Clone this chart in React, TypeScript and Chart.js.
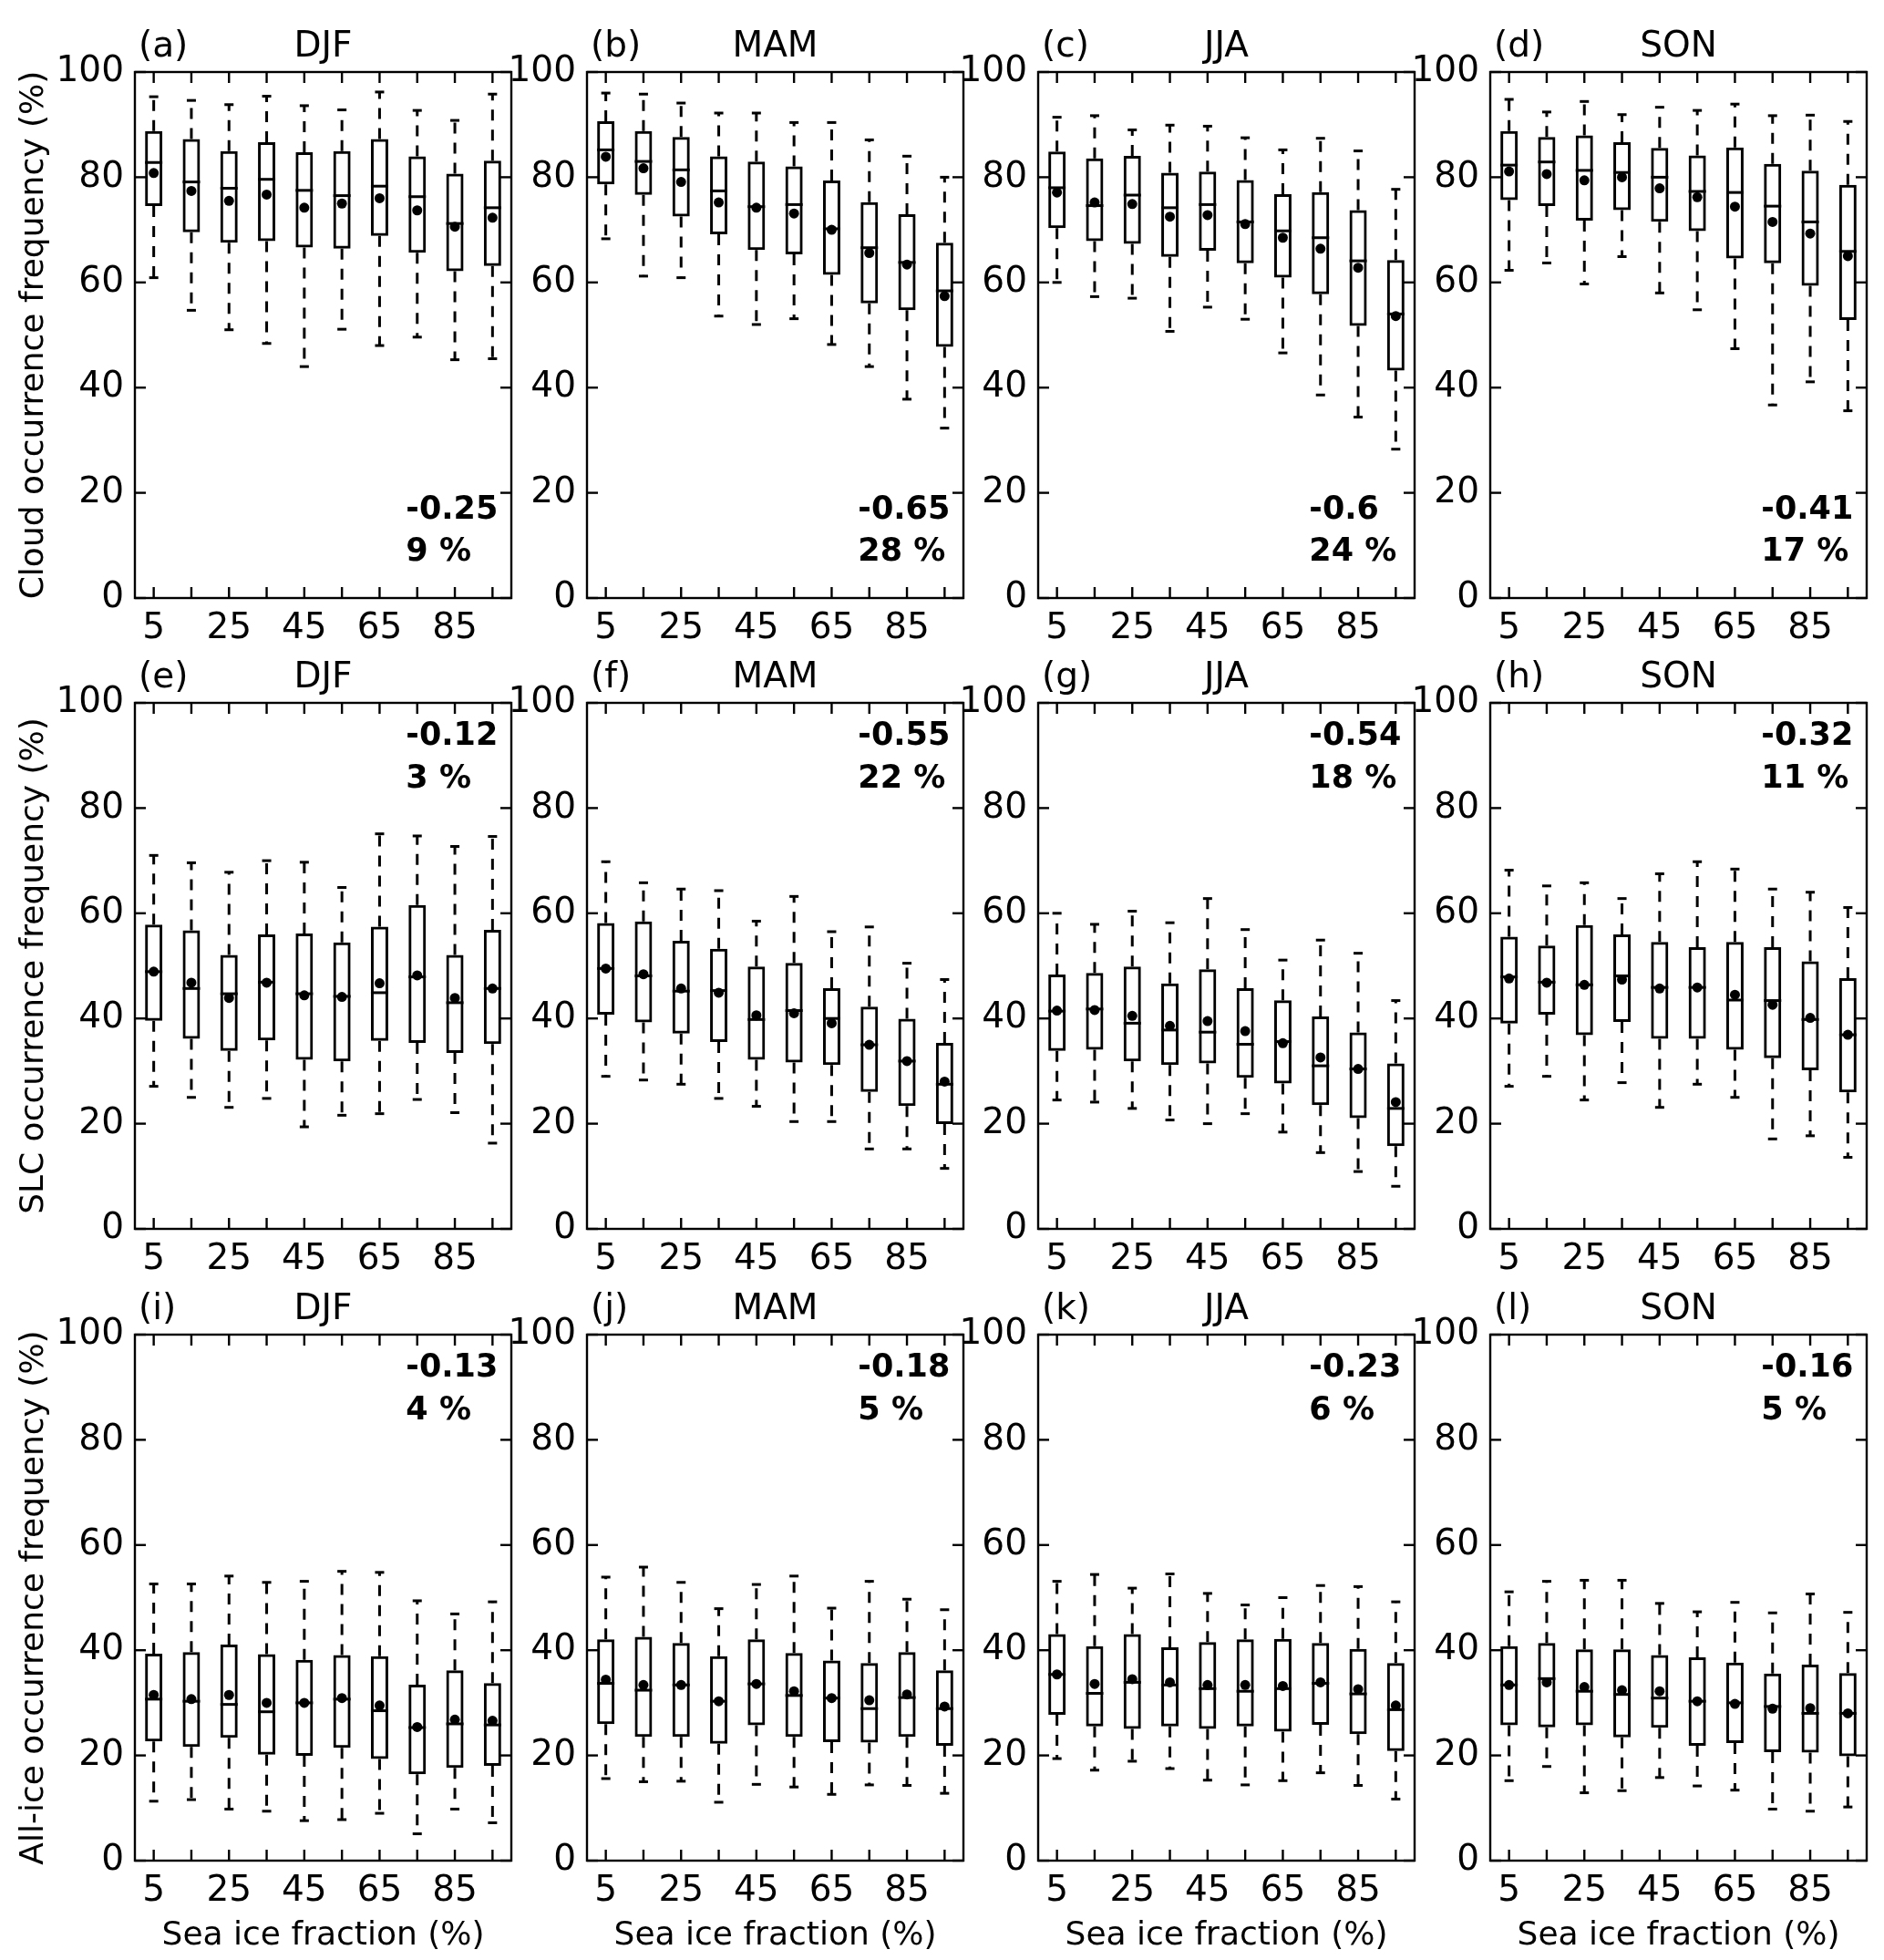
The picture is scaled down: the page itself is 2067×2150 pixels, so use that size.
import React, { useEffect, useRef } from 'react';
import { Chart, registerables } from 'chart.js';

Chart.register(...registerables);

// ---------- data ----------
const seaIceBins = [5, 15, 25, 35, 45, 55, 65, 75, 85, 95];
const xTickLabels = [5, 25, 45, 65, 85];
const yTickValues = [0, 20, 40, 60, 80, 100];
const seasons = ['DJF', 'MAM', 'JJA', 'SON'];
const panelLetters = ['a', 'b', 'c', 'd', 'e', 'f', 'g', 'h', 'i', 'j', 'k', 'l'];
const yAxisTitles = [
  'Cloud occurrence frequency (%)',
  'SLC occurrence frequency (%)',
  'All-ice occurrence frequency (%)',
];
const xAxisTitle = 'Sea ice fraction (%)';
const correlations = ['-0.25', '-0.65', '-0.6', '-0.41', '-0.12', '-0.55', '-0.54', '-0.32', '-0.13', '-0.18', '-0.23', '-0.16'];
const explainedVariance = ['9 %', '28 %', '24 %', '17 %', '3 %', '22 %', '18 %', '11 %', '4 %', '5 %', '6 %', '5 %'];

// each row: [min, q1, median, mean, q3, max]
const cloudDJF = [
  [60.9, 74.8, 82.8, 80.8, 88.5, 95.3],
  [54.7, 69.8, 79.1, 77.4, 87.0, 94.6],
  [51.0, 67.8, 77.9, 75.5, 84.7, 93.8],
  [48.4, 68.1, 79.6, 76.7, 86.4, 95.4],
  [44.0, 66.9, 77.5, 74.2, 84.5, 93.6],
  [51.1, 66.7, 76.5, 75.0, 84.7, 92.8],
  [48.0, 69.1, 78.3, 76.0, 87.0, 96.2],
  [49.6, 65.9, 76.3, 73.7, 83.7, 92.7],
  [45.3, 62.4, 71.2, 70.6, 80.4, 90.8],
  [45.5, 63.4, 74.2, 72.3, 82.9, 95.8],
];
const cloudMAM = [
  [68.3, 78.9, 85.2, 83.9, 90.4, 96.0],
  [61.2, 76.9, 83.0, 81.7, 88.5, 95.8],
  [60.9, 72.8, 81.4, 79.1, 87.4, 94.1],
  [53.6, 69.4, 77.4, 75.2, 83.7, 92.2],
  [52.0, 66.4, 74.4, 74.2, 82.7, 92.2],
  [53.1, 65.6, 74.8, 73.1, 81.8, 90.4],
  [48.2, 61.7, 70.2, 70.0, 79.1, 90.4],
  [44.0, 56.3, 66.6, 65.6, 75.0, 87.1],
  [37.8, 55.0, 63.8, 63.4, 72.7, 84.0],
  [32.3, 48.0, 58.4, 57.4, 67.3, 80.0],
];
const cloudJJA = [
  [60.0, 70.6, 78.0, 77.1, 84.6, 91.4],
  [57.3, 68.1, 74.6, 75.2, 83.3, 91.7],
  [57.0, 67.6, 76.6, 74.9, 83.8, 89.0],
  [50.7, 65.1, 74.2, 72.5, 80.6, 89.9],
  [55.3, 66.3, 74.8, 72.8, 80.8, 89.7],
  [53.0, 63.9, 71.5, 71.1, 79.2, 87.5],
  [46.6, 61.2, 69.8, 68.5, 76.5, 85.2],
  [38.6, 58.0, 68.5, 66.4, 76.9, 87.4],
  [34.4, 52.0, 64.1, 62.8, 73.5, 85.0],
  [28.3, 43.5, 54.0, 53.6, 64.0, 77.7],
];
const cloudSON = [
  [62.3, 75.9, 82.3, 81.1, 88.5, 94.8],
  [63.7, 74.8, 82.9, 80.6, 87.4, 92.4],
  [59.7, 72.0, 81.3, 79.4, 87.7, 94.4],
  [64.9, 74.0, 80.9, 80.0, 86.4, 91.9],
  [58.0, 71.8, 80.0, 77.9, 85.3, 93.3],
  [54.8, 70.0, 77.3, 76.2, 83.9, 92.7],
  [47.4, 64.8, 77.1, 74.4, 85.4, 93.9],
  [36.7, 63.9, 74.5, 71.5, 82.3, 91.7],
  [41.1, 59.6, 71.5, 69.3, 81.0, 91.8],
  [35.6, 53.1, 65.9, 65.0, 78.3, 90.6],
];
const slcDJF = [
  [27.1, 39.8, 48.9, 48.9, 57.6, 71.0],
  [25.0, 36.4, 45.7, 46.8, 56.5, 69.6],
  [23.1, 34.1, 44.7, 43.9, 51.8, 67.8],
  [24.8, 36.1, 46.9, 46.8, 55.7, 70.0],
  [19.4, 32.4, 44.7, 44.4, 55.9, 69.7],
  [21.6, 32.1, 44.2, 44.1, 54.2, 64.9],
  [21.9, 36.0, 44.9, 46.7, 57.2, 75.1],
  [24.6, 35.6, 47.9, 48.2, 61.3, 74.7],
  [22.1, 33.7, 43.0, 43.9, 51.8, 72.7],
  [16.3, 35.4, 45.7, 45.7, 56.6, 74.6],
];
const slcMAM = [
  [29.0, 41.0, 49.5, 49.5, 57.9, 69.8],
  [28.3, 39.5, 48.1, 48.4, 58.2, 65.8],
  [27.5, 37.4, 45.2, 45.7, 54.5, 64.6],
  [24.8, 35.8, 45.3, 44.9, 53.0, 64.3],
  [23.3, 32.4, 39.8, 40.6, 49.6, 58.5],
  [20.4, 31.9, 41.5, 41.0, 50.3, 63.2],
  [20.4, 31.4, 40.0, 39.1, 45.5, 56.5],
  [15.2, 26.3, 35.0, 35.0, 42.0, 57.4],
  [15.2, 23.6, 31.9, 31.9, 39.7, 50.5],
  [11.5, 20.2, 27.5, 28.0, 35.1, 47.4],
];
const slcJJA = [
  [24.5, 34.1, 41.4, 41.5, 48.1, 60.0],
  [24.1, 34.3, 41.8, 41.6, 48.4, 57.9],
  [22.9, 32.1, 39.1, 40.5, 49.6, 60.4],
  [20.7, 31.4, 37.8, 38.6, 46.4, 58.2],
  [20.0, 31.7, 37.4, 39.5, 49.1, 62.8],
  [21.9, 29.0, 35.1, 37.6, 45.5, 56.9],
  [18.4, 27.9, 35.6, 35.3, 43.2, 51.1],
  [14.5, 23.8, 31.0, 32.6, 40.1, 54.9],
  [10.9, 21.3, 30.4, 30.4, 37.1, 52.4],
  [8.1, 16.0, 22.9, 24.1, 31.2, 43.4],
];
const slcSON = [
  [27.1, 39.3, 47.9, 47.6, 55.3, 68.2],
  [29.0, 41.0, 46.9, 46.8, 53.6, 65.2],
  [24.5, 37.1, 46.4, 46.4, 57.5, 65.8],
  [27.8, 39.6, 48.1, 47.4, 55.7, 62.8],
  [23.1, 36.4, 45.9, 45.7, 54.3, 67.5],
  [27.5, 36.4, 45.9, 45.9, 53.3, 69.8],
  [25.0, 34.3, 43.5, 44.5, 54.3, 68.4],
  [17.1, 32.7, 43.4, 42.6, 53.3, 64.6],
  [17.7, 30.4, 39.8, 40.1, 50.6, 64.0],
  [13.6, 26.2, 36.9, 36.9, 47.4, 61.1],
];
const iceDJF = [
  [11.3, 22.9, 30.7, 31.5, 39.1, 52.6],
  [11.6, 21.9, 30.3, 30.7, 39.4, 52.6],
  [9.8, 23.6, 29.7, 31.5, 40.8, 54.1],
  [9.4, 20.4, 28.3, 30.0, 39.0, 52.9],
  [7.6, 20.2, 30.0, 30.0, 37.9, 53.1],
  [7.8, 21.7, 30.7, 30.9, 38.8, 55.0],
  [9.0, 19.6, 28.5, 29.5, 38.6, 54.8],
  [5.1, 16.7, 25.3, 25.4, 33.2, 49.4],
  [9.8, 17.9, 26.0, 26.8, 35.9, 46.9],
  [7.2, 18.3, 25.8, 26.6, 33.5, 49.2],
];
const iceMAM = [
  [15.6, 26.2, 33.7, 34.4, 41.8, 53.9],
  [15.0, 23.8, 32.4, 33.4, 42.3, 55.8],
  [15.1, 23.8, 33.4, 33.4, 41.1, 52.9],
  [11.1, 22.5, 30.3, 30.3, 38.6, 47.9],
  [14.5, 26.0, 33.6, 33.6, 41.8, 52.5],
  [14.0, 23.8, 31.4, 32.2, 39.2, 54.1],
  [12.6, 22.8, 30.9, 30.9, 37.8, 48.0],
  [14.4, 22.7, 28.9, 30.5, 37.3, 53.1],
  [14.3, 23.8, 31.0, 31.6, 39.4, 49.7],
  [12.8, 22.1, 28.9, 29.3, 35.9, 47.7],
];
const iceJJA = [
  [19.4, 28.0, 35.4, 35.4, 42.8, 53.1],
  [17.2, 25.8, 31.8, 33.6, 40.5, 54.4],
  [18.9, 25.3, 33.9, 34.5, 42.8, 51.8],
  [17.5, 25.8, 33.4, 33.9, 40.3, 54.5],
  [15.3, 25.3, 32.7, 33.4, 41.3, 50.8],
  [14.4, 25.8, 32.2, 33.4, 41.8, 48.6],
  [15.2, 24.8, 32.7, 33.2, 41.9, 50.0],
  [16.7, 26.1, 33.7, 33.9, 41.1, 52.3],
  [14.3, 24.3, 31.7, 32.6, 40.0, 52.1],
  [11.7, 21.1, 28.7, 29.5, 37.3, 49.2],
];
const iceSON = [
  [15.2, 26.0, 33.4, 33.4, 40.5, 51.1],
  [17.9, 25.6, 34.6, 33.9, 41.1, 53.1],
  [12.9, 26.0, 32.2, 33.0, 39.9, 53.3],
  [13.3, 23.7, 31.6, 32.4, 39.9, 53.3],
  [15.8, 25.5, 30.9, 32.2, 38.8, 48.9],
  [14.2, 22.1, 30.3, 30.3, 38.4, 47.3],
  [13.4, 22.6, 30.0, 29.8, 37.4, 49.1],
  [9.8, 20.9, 29.3, 28.9, 35.3, 47.1],
  [9.4, 20.8, 28.0, 29.0, 37.0, 50.7],
  [10.2, 20.1, 28.0, 28.0, 35.4, 47.2],
];

const panelStats = [
  cloudDJF, cloudMAM, cloudJJA, cloudSON,
  slcDJF, slcMAM, slcJJA, slcSON,
  iceDJF, iceMAM, iceJJA, iceSON,
];

// ---------- layout / style ----------
const FONT = '"DejaVu Sans", "Liberation Sans", sans-serif';
const TICK_SIZE = 39;
const TITLE_SIZE = 39;
const AXIS_TITLE_SIZE = 36;
const NOTE_SIZE = 35;
const LW = 3;
const FRAME_LW = 2.4;
const INFLATE = 1.5;
const L = 140;
const T = 75;
const R = 12;
const B = 104;
const PLOT_W = 413;
const PLOT_H = 577;
const CW = L + PLOT_W + R;
const CH = T + PLOT_H + B;
const COL_LEFT = [148, 644, 1139, 1635];
const ROW_TOP = [79, 771, 1464];

function makeBoxPlugin(stats: number[][]) {
  return {
    id: 'boxExtras',
    afterDatasetDraw(chart: any, args: any) {
      if (args.index !== 1) return;
      const ctx = chart.ctx;
      const y = chart.scales.y;
      const meta = chart.getDatasetMeta(1);
      ctx.save();
      ctx.strokeStyle = '#000';
      ctx.lineWidth = LW;
      ctx.lineCap = 'butt';
      const seg = (x1: number, y1: number, x2: number, y2: number) => {
        ctx.beginPath();
        ctx.moveTo(x1, y1);
        ctx.lineTo(x2, y2);
        ctx.stroke();
      };
      stats.forEach((s, i) => {
        const el = meta.data[i];
        if (!el) return;
        const cx = el.x;
        const half = el.width / 2 + INFLATE;
        const [mn, q1, md, , q3, mx] = s;
        const pMin = y.getPixelForValue(mn);
        const pQ1 = y.getPixelForValue(q1);
        const pMd = y.getPixelForValue(md);
        const pQ3 = y.getPixelForValue(q3);
        const pMax = y.getPixelForValue(mx);
        ctx.setLineDash([12, 10]);
        seg(cx, pQ3 - INFLATE, cx, pMax);
        seg(cx, pQ1 + INFLATE, cx, pMin);
        ctx.setLineDash([]);
        seg(cx - 5, pMax, cx + 5, pMax);
        seg(cx - 5, pMin, cx + 5, pMin);
        seg(cx - half, pMd, cx + half, pMd);
      });
      ctx.restore();
    },
  };
}

function makeFramePlugin(idx: number) {
  const row = Math.floor(idx / 4);
  const col = idx % 4;
  return {
    id: 'frameText',
    afterDraw(chart: any) {
      const ctx = chart.ctx;
      const { left, right, top, bottom } = chart.chartArea;
      const x = chart.scales.x;
      const y = chart.scales.y;
      ctx.save();
      ctx.strokeStyle = '#000';
      ctx.lineWidth = FRAME_LW;
      ctx.strokeRect(left, top, right - left, bottom - top);
      const seg = (x1: number, y1: number, x2: number, y2: number) => {
        ctx.beginPath();
        ctx.moveTo(x1, y1);
        ctx.lineTo(x2, y2);
        ctx.stroke();
      };
      seaIceBins.forEach((v) => {
        const px = x.getPixelForValue(v);
        seg(px, bottom, px, bottom - 12);
        seg(px, top, px, top + 12);
      });
      yTickValues.forEach((v) => {
        const py = y.getPixelForValue(v);
        seg(left, py, left + 12, py);
        seg(right, py, right - 12, py);
      });
      ctx.fillStyle = '#000';
      ctx.textBaseline = 'alphabetic';
      ctx.font = `${TITLE_SIZE}px ${FONT}`;
      ctx.textAlign = 'center';
      ctx.fillText(seasons[col], (left + right) / 2, top - 17);
      ctx.textAlign = 'left';
      ctx.fillText(`(${panelLetters[idx]})`, left + 4, top - 17);
      ctx.font = `bold ${NOTE_SIZE}px ${FONT}`;
      const nx = left + 0.72 * (right - left);
      if (row === 0) {
        ctx.fillText(correlations[idx], nx, bottom - 87);
        ctx.fillText(explainedVariance[idx], nx, bottom - 41);
      } else {
        ctx.fillText(correlations[idx], nx, top + 46);
        ctx.fillText(explainedVariance[idx], nx, top + 93);
      }
      ctx.restore();
    },
  };
}

function Panel({ idx }: { idx: number }) {
  const ref = useRef<HTMLCanvasElement>(null);
  const row = Math.floor(idx / 4);
  const col = idx % 4;
  useEffect(() => {
    const stats = panelStats[idx];
    const cfg: any = {
      type: 'bar',
      data: {
        datasets: [
          {
            type: 'scatter',
            label: 'mean',
            data: stats.map((s, i) => ({ x: seaIceBins[i], y: s[3] })),
            pointRadius: 5.5,
            pointHoverRadius: 5.5,
            backgroundColor: '#000',
            borderColor: '#000',
            borderWidth: 0,
          },
          {
            type: 'bar',
            label: 'IQR',
            data: stats.map((s, i) => ({ x: seaIceBins[i], y: [s[1], s[4]] })),
            backgroundColor: '#fff',
            borderColor: '#000',
            borderWidth: LW,
            borderSkipped: false,
            barThickness: 16,
            inflateAmount: INFLATE,
          },
        ],
      },
      options: {
        animation: false,
        responsive: false,
        devicePixelRatio: 1,
        events: [],
        layout: { padding: { left: 0, top: T, right: R, bottom: 0 } },
        plugins: {
          legend: { display: false },
          tooltip: { enabled: false },
          title: { display: false },
        },
        scales: {
          x: {
            type: 'linear',
            min: 0,
            max: 100,
            offset: false,
            grid: { display: false, drawTicks: false, offset: false },
            border: { display: false },
            afterBuildTicks: (s: any) => {
              s.ticks = xTickLabels.map((v) => ({ value: v }));
            },
            ticks: { color: '#000', font: { family: FONT, size: TICK_SIZE }, padding: 10, maxRotation: 0, autoSkip: false },
            title: {
              display: row === 2,
              text: xAxisTitle,
              color: '#000',
              font: { family: FONT, size: AXIS_TITLE_SIZE },
              padding: { top: 0, bottom: 0 },
            },
            afterFit: (s: any) => {
              s.height = B;
            },
          },
          y: {
            type: 'linear',
            min: 0,
            max: 100,
            grid: { display: false, drawTicks: false },
            border: { display: false },
            ticks: { stepSize: 20, color: '#000', font: { family: FONT, size: TICK_SIZE }, padding: 12 },
            title: {
              display: col === 0,
              text: yAxisTitles[row],
              color: '#000',
              font: { family: FONT, size: AXIS_TITLE_SIZE },
              padding: { top: 8, bottom: 0 },
            },
            afterFit: (s: any) => {
              s.width = L;
            },
          },
        },
      },
      plugins: [makeBoxPlugin(stats), makeFramePlugin(idx)],
    };
    const chart = new Chart(ref.current as HTMLCanvasElement, cfg);
    return () => chart.destroy();
  }, [idx]);
  return (
    <canvas
      ref={ref}
      width={CW}
      height={CH}
      style={{
        position: 'absolute',
        left: COL_LEFT[col] - L - 8,
        top: ROW_TOP[row] - T - 8,
        width: CW,
        height: CH,
      }}
    />
  );
}

export default function App() {
  return (
    <div style={{ position: 'relative', width: 2051, height: 2134, background: '#fff' }}>
      {panelStats.map((_, i) => (
        <Panel key={i} idx={i} />
      ))}
    </div>
  );
}
